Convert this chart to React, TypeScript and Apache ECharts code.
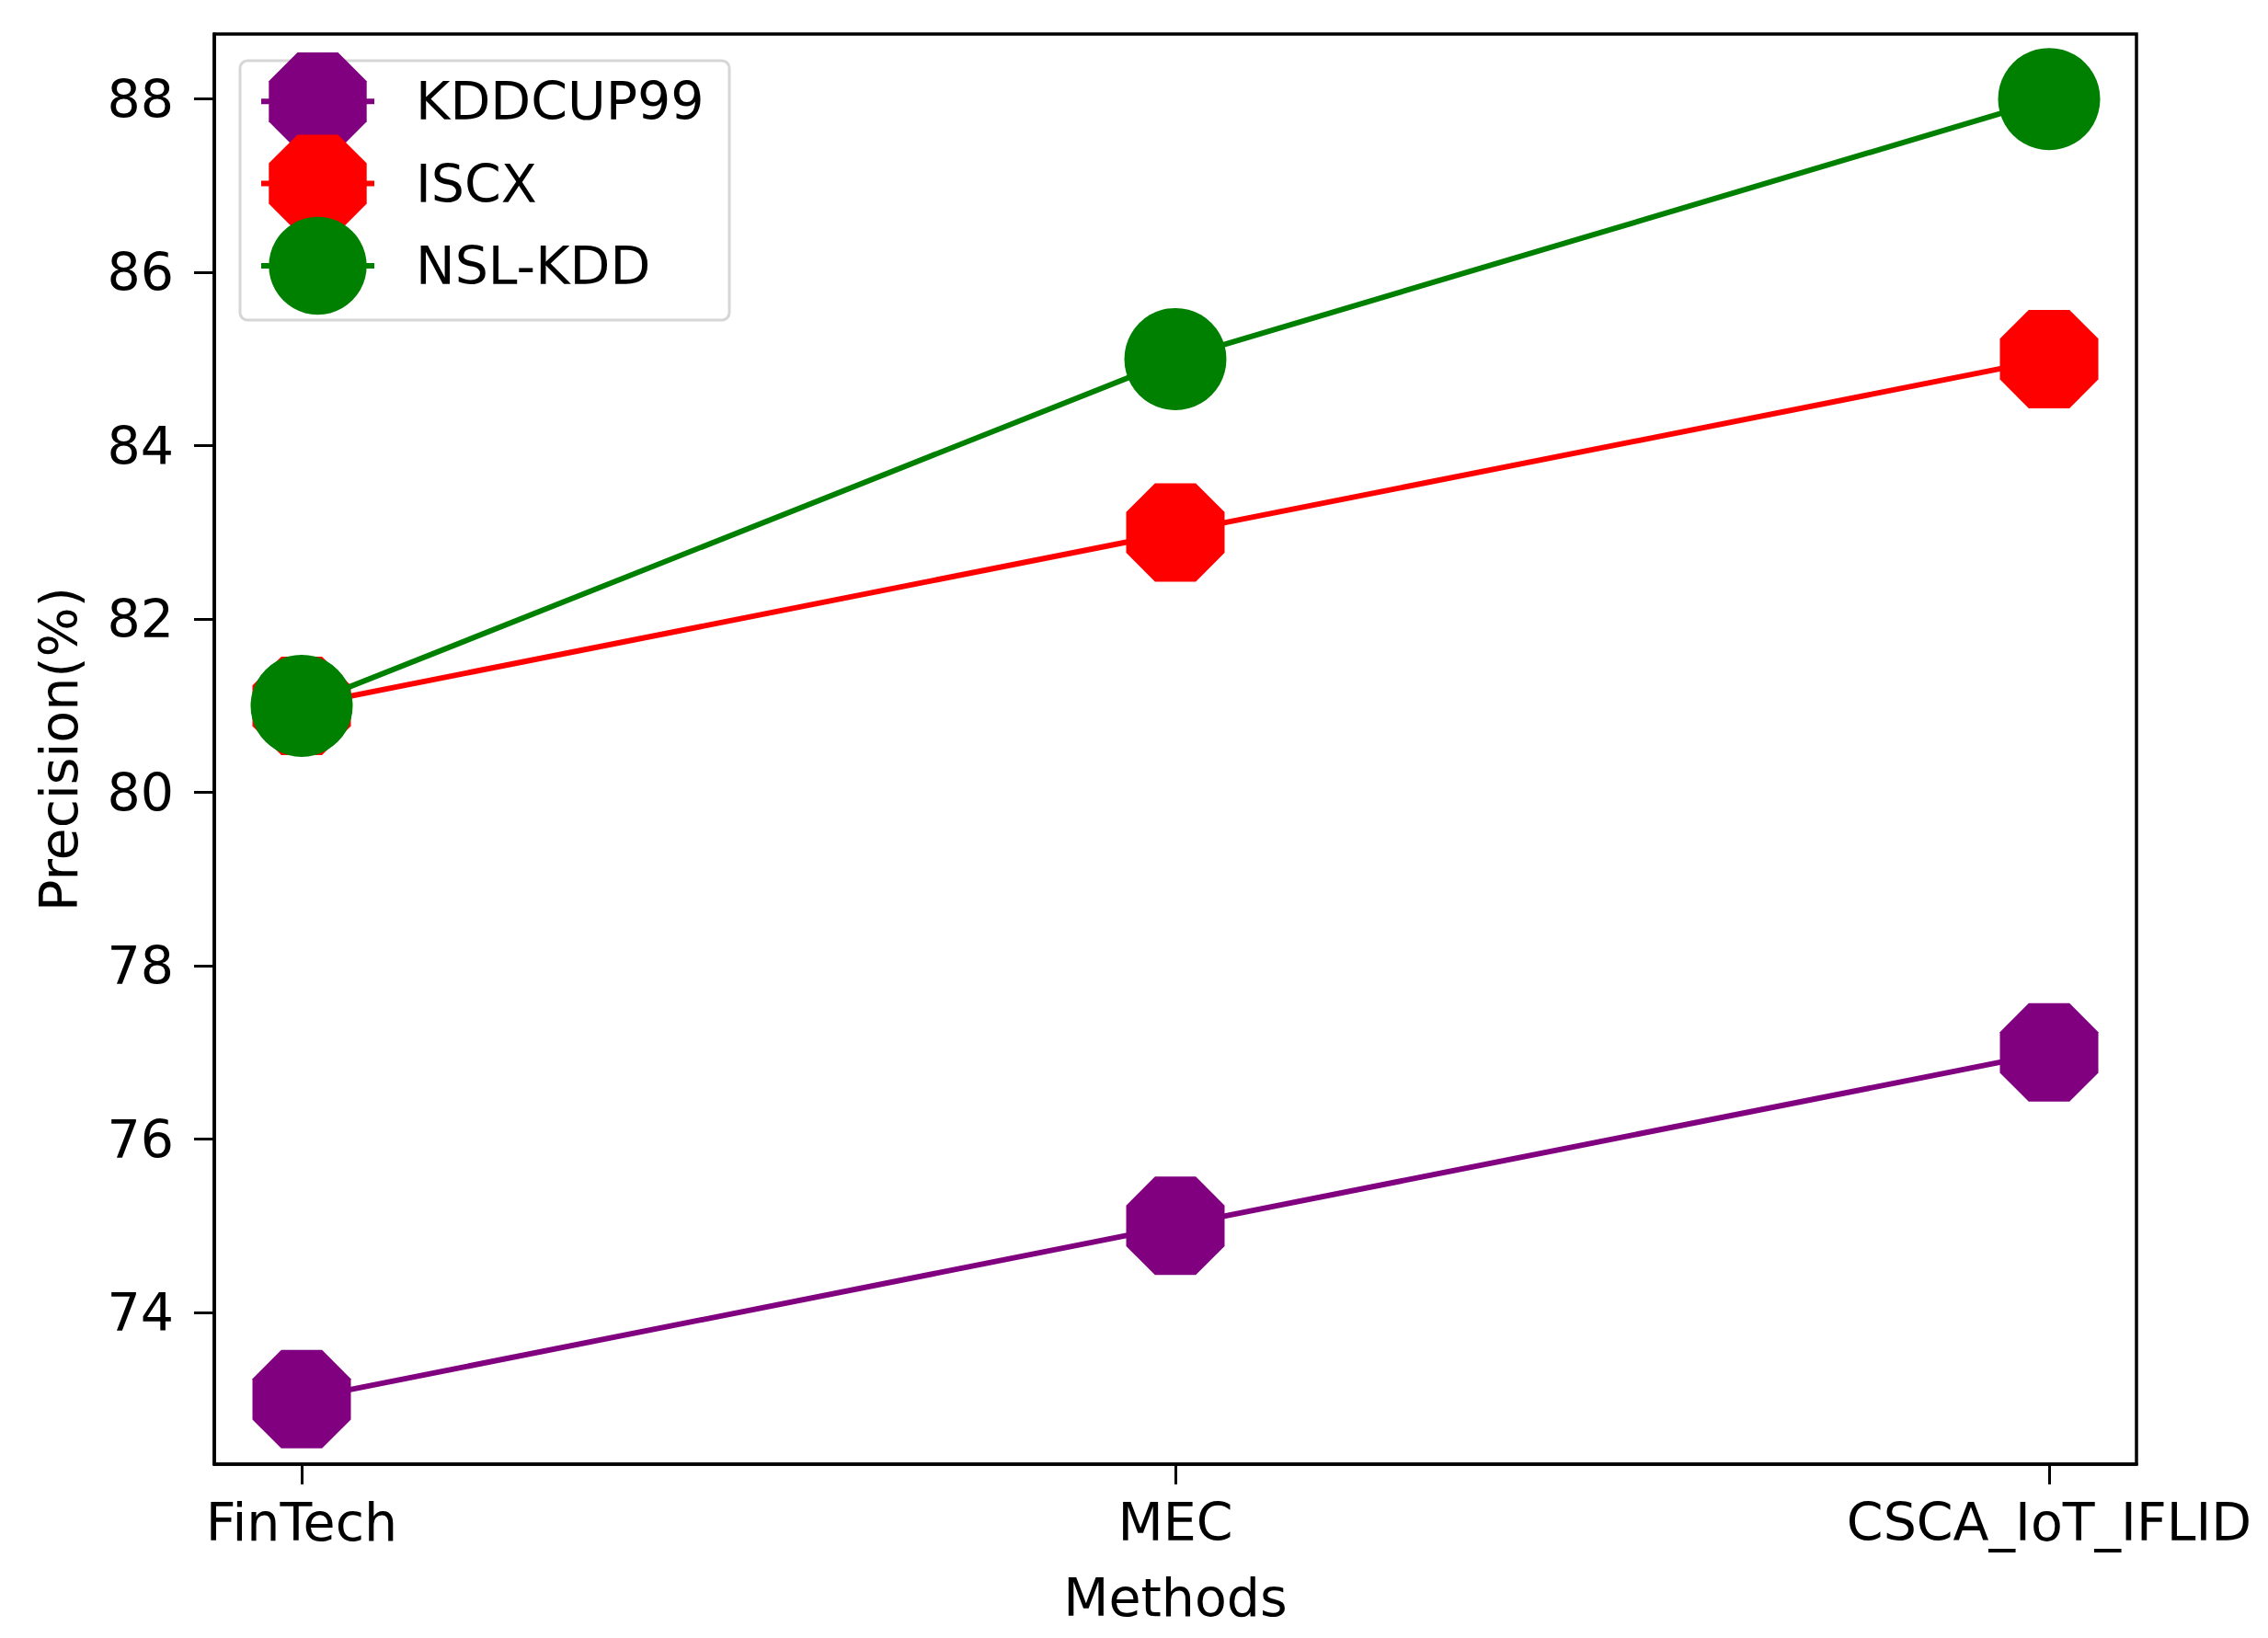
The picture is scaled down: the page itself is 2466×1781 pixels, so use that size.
import React, { useEffect, useRef } from "react";
import * as echarts from "echarts";

const categories = ["FinTech", "MEC", "CSCA_IoT_IFLID"];
const seriesNames = ["KDDCUP99", "ISCX", "NSL-KDD"];
const kddcup99 = [73, 75, 77];
const iscx = [81, 83, 85];
const nslkdd = [81, 85, 88];
const yTicks = [74, 76, 78, 80, 82, 84, 86, 88];
const xTicks = [0, 1, 2];

const OCTAGON = "path://M29.3,0L70.7,0L100,29.3L100,70.7L70.7,100L29.3,100L0,70.7L0,29.3Z";
const FONT = "DejaVu Sans";

export default function App() {
  const ref = useRef<HTMLDivElement>(null);
  useEffect(() => {
    if (!ref.current) return;
    const chart = echarts.init(ref.current, null, { renderer: "svg" });
    const mk = (vals: number[]) => vals.map((v, i) => [i, v]);
    const colors = ["#800080", "#ff0000", "#008000"];
    const values = [kddcup99, iscx, nslkdd];
    const symbols = [OCTAGON, OCTAGON, "circle"];
    const sizes = [107, 107, 111];
    chart.setOption({
      animation: false,
      backgroundColor: "#ffffff",
      textStyle: { fontFamily: FONT },
      grid: {
        left: 233,
        right: 143,
        top: 37,
        bottom: 189,
        show: true,
        borderColor: "#000",
        borderWidth: 3.5,
        backgroundColor: "transparent",
      },
      graphic: [
        {
          type: "rect",
          z: 1,
          shape: { x: 261, y: 66, width: 532, height: 282, r: 8 },
          style: { fill: "rgba(255,255,255,0.8)", stroke: "#d6d6d6", lineWidth: 3 },
        },
      ],
      legend: {
        z: 5,
        orient: "vertical",
        left: 281,
        top: 57,
        padding: 0,
        itemWidth: 123,
        itemHeight: 133,
        itemGap: -17,
        data: seriesNames,
        lineStyle: { width: 6 },
        textStyle: {
          fontFamily: FONT,
          fontSize: 57,
          color: "#000",
          padding: [0, 0, 0, 40],
        },
      },
      xAxis: {
        type: "value",
        min: -0.1,
        max: 2.1,
        name: "Methods",
        nameLocation: "middle",
        nameGap: 116,
        nameTextStyle: { fontFamily: FONT, fontSize: 57, color: "#000" },
        splitLine: { show: false },
        axisLine: { show: true, onZero: false, lineStyle: { color: "#000", width: 3.5 } },
        axisTick: { show: true, length: 22, lineStyle: { color: "#000", width: 3 }, customValues: xTicks },
        axisLabel: {
          customValues: xTicks,
          margin: 34,
          fontFamily: FONT,
          fontSize: 57,
          color: "#000",
          formatter: (v: number) => categories[Math.round(v)] ?? "",
        },
      },
      yAxis: {
        type: "value",
        min: 72.25,
        max: 88.75,
        name: "Precision(%)",
        nameLocation: "middle",
        nameGap: 141,
        nameTextStyle: { fontFamily: FONT, fontSize: 57, color: "#000" },
        splitLine: { show: false },
        axisLine: { show: true, onZero: false, lineStyle: { color: "#000", width: 3.5 } },
        axisTick: { show: true, length: 22, lineStyle: { color: "#000", width: 3 }, customValues: yTicks },
        axisLabel: {
          customValues: yTicks,
          margin: 44,
          fontFamily: FONT,
          fontSize: 57,
          color: "#000",
        },
      },
      series: seriesNames.map((name, i) => ({
        name,
        type: "line",
        data: mk(values[i]),
        symbol: symbols[i],
        symbolSize: sizes[i],
        z: 2 + i,
        lineStyle: { color: colors[i], width: 6 },
        itemStyle: { color: colors[i], borderWidth: 0 },
        emphasis: { disabled: true },
      })),
    });
    return () => chart.dispose();
  }, []);
  return (
    <div
      ref={ref}
      style={{ position: "fixed", left: 0, top: 0, width: 2466, height: 1781, background: "#fff" }}
    />
  );
}
